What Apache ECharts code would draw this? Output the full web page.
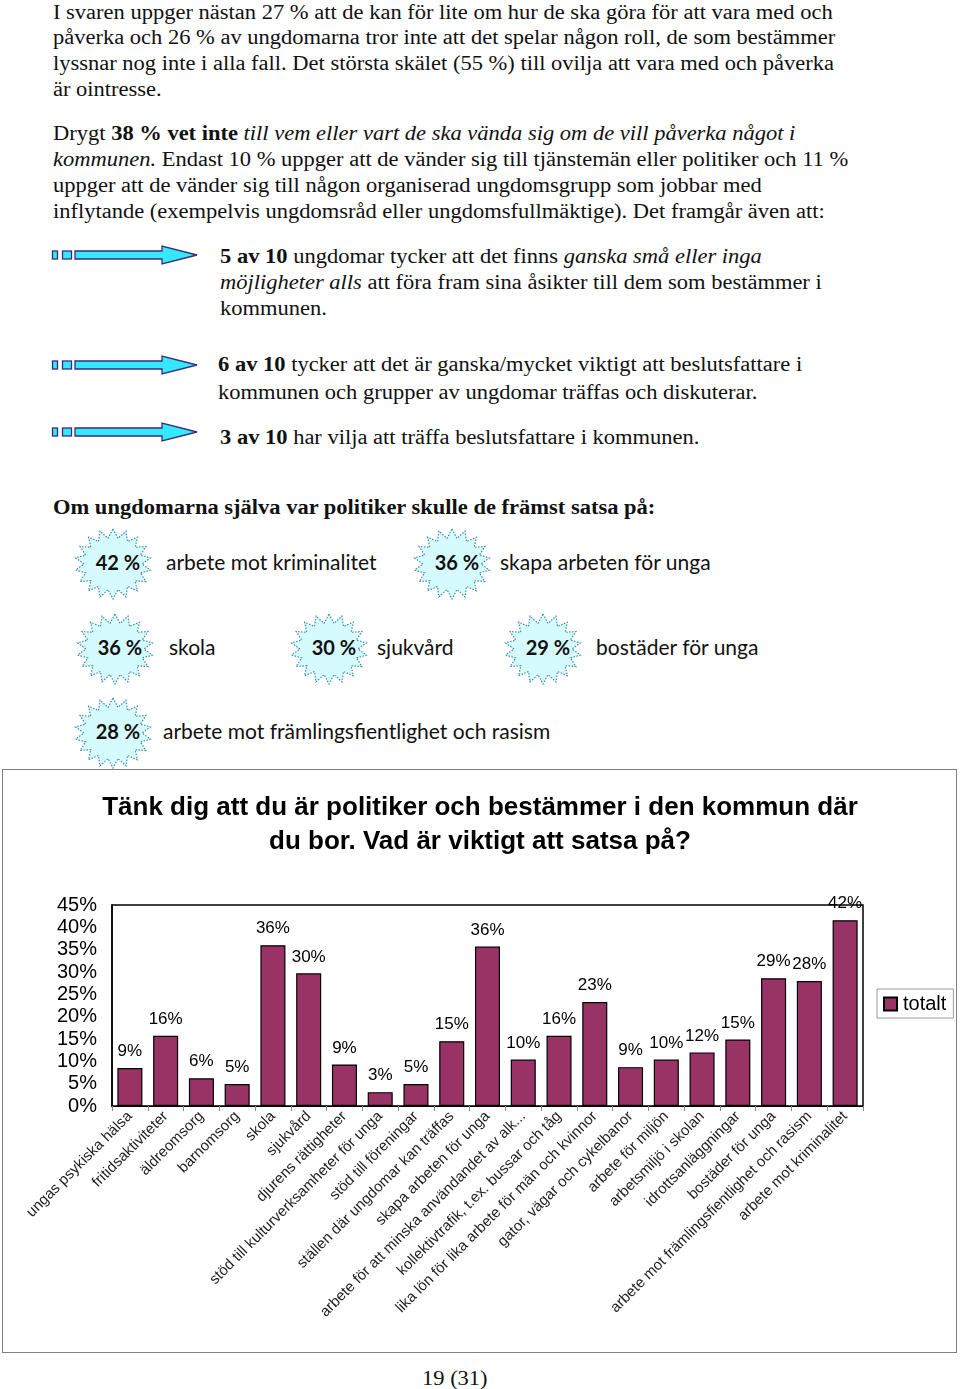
<!DOCTYPE html>
<html>
<head>
<meta charset="utf-8">
<script src="https://cdn.jsdelivr.net/npm/echarts@6/dist/echarts.min.js"></script>
<style>
  html, body { margin: 0; padding: 0; background: #fff; }
  body { width: 960px; height: 1389px; position: relative; overflow: hidden; }
  .ln { position: absolute; white-space: nowrap; font-family: "Liberation Serif", "DejaVu Serif", serif; font-size: 20px; line-height: 26px; color: #111; transform: scaleX(1.125); transform-origin: 0 50%; }
  .star-txt { position: absolute; white-space: nowrap; font-family: Lato, "Open Sans", sans-serif; font-size: 21px; line-height: 26px; color: #111; }
  .star-pct { position: absolute; white-space: nowrap; font-family: Lato, "Open Sans", sans-serif; font-weight: bold; font-size: 20px; line-height: 26px; color: #111; text-align: center; width: 80px; }
  #box { position: absolute; left: 2px; top: 769px; width: 955px; height: 584px; border: 1px solid #808080; box-sizing: border-box; }
  #chart { position: absolute; left: 0; top: 760px; width: 960px; height: 600px; }
  svg.deco { position: absolute; left: 0; top: 0; }
</style>
</head>
<body>
<div id="box"></div>
<div id="chart"></div>
<script>
// ---------- chart data ----------
const categories = [
  "ungas psykiska hälsa",
  "fritidsaktiviteter",
  "äldreomsorg",
  "barnomsorg",
  "skola",
  "sjukvård",
  "djurens rättigheter",
  "stöd till kulturverksamheter för unga",
  "stöd till föreningar",
  "ställen där ungdomar kan träffas",
  "skapa arbeten för unga",
  "arbete för att minska användandet av alk...",
  "kollektivtrafik, t.ex. bussar och tåg",
  "lika lön för lika arbete för män och kvinnor",
  "gator, vägar och cykelbanor",
  "arbete för miljön",
  "arbetsmiljö i skolan",
  "idrottsanläggningar",
  "bostäder för unga",
  "arbete mot främlingsfientlighet och rasism",
  "arbete mot kriminalitet"
];
const totalt = [8.5, 15.7, 6.2, 4.9, 36.0, 29.7, 9.3, 3.1, 4.9, 14.5, 35.7, 10.4, 15.7, 23.3, 8.7, 10.4, 12.0, 14.9, 28.6, 28.0, 41.6];
const seriesName = "totalt";
const yTicks = [0, 5, 10, 15, 20, 25, 30, 35, 40, 45];
const chartTitle = "Tänk dig att du är politiker och bestämmer i den kommun där\ndu bor. Vad är viktigt att satsa på?";

// ---------- document text ----------
const paraLines = [
  'I svaren uppger nästan 27 % att de kan för lite om hur de ska göra för att vara med och',
  'påverka och 26 % av ungdomarna tror inte att det spelar någon roll, de som bestämmer',
  'lyssnar nog inte i alla fall. Det största skälet (55 %) till ovilja att vara med och påverka',
  'är ointresse.',
  'Drygt <b>38 % vet inte</b> <i>till vem eller vart de ska vända sig om de vill påverka något i</i>',
  '<i>kommunen.</i> Endast 10 % uppger att de vänder sig till tjänstemän eller politiker och 11 %',
  'uppger att de vänder sig till någon organiserad ungdomsgrupp som jobbar med',
  'inflytande (exempelvis ungdomsråd eller ungdomsfullmäktige). Det framgår även att:'
];
const bulletLines = [
  '<b>5 av 10</b> ungdomar tycker att det finns <i>ganska små eller inga</i>',
  '<i>möjligheter alls</i> att föra fram sina åsikter till dem som bestämmer i',
  'kommunen.',
  '<b>6 av 10</b> tycker att det är ganska/mycket viktigt att beslutsfattare i',
  'kommunen och grupper av ungdomar träffas och diskuterar.',
  '<b>3 av 10</b> har vilja att träffa beslutsfattare i kommunen.'
];
const heading = '<b>Om ungdomarna själva var politiker skulle de främst satsa på:</b>';
const starPcts = ['42 %', '36 %', '36 %', '30 %', '29 %', '28 %'];
const starTexts = ['arbete mot kriminalitet', 'skapa arbeten för unga', 'skola', 'sjukvård', 'bostäder för unga', 'arbete mot främlingsfientlighet och rasism'];
const pageNumber = '19 (31)';

// ---------- layout (positions) ----------
const paraLayout = [[53,12],[53,37],[53,63],[53,89],[53,133],[53,159],[53,185],[53,211]];
const bulletLayout = [[220,256],[220,282],[220,308],[218,364],[218,392],[220,437]];
const arrowY = [255, 365, 432];
const starLayout = [[113,564,166],[452,564,500],[115,649,169],[329,649,377],[543,649,596],[113,733,163]];

function addLine(html, x, cy, cls) {
  const d = document.createElement('div');
  d.className = cls || 'ln';
  d.innerHTML = html;
  d.style.left = x + 'px';
  d.style.top = (cy - 13) + 'px';
  document.body.appendChild(d);
  return d;
}
paraLines.forEach((t, i) => addLine(t, paraLayout[i][0], paraLayout[i][1]));
bulletLines.forEach((t, i) => addLine(t, bulletLayout[i][0], bulletLayout[i][1]));
addLine(heading, 53, 507);
addLine(pageNumber, 422, 1378);

// decorations svg
const NS = 'http://www.w3.org/2000/svg';
const svg = document.createElementNS(NS, 'svg');
svg.setAttribute('class', 'deco');
svg.setAttribute('width', '960');
svg.setAttribute('height', '770');
document.body.insertBefore(svg, document.body.firstChild);
function el(name, attrs) {
  const e = document.createElementNS(NS, name);
  for (const k in attrs) e.setAttribute(k, attrs[k]);
  svg.appendChild(e);
  return e;
}
arrowY.forEach(y => {
  const st = '#3b2a80', fill = '#36e8fb';
  el('rect', {x: 52.5, y: y - 4, width: 5, height: 8, fill: fill, stroke: st, 'stroke-width': 1.3});
  el('rect', {x: 62.5, y: y - 4, width: 9, height: 8, fill: fill, stroke: st, 'stroke-width': 1.3});
  el('polygon', {points: `75,${y-4} 162,${y-4} 162,${y-9} 197,${y} 162,${y+9} 162,${y+4} 75,${y+4}`, fill: fill, stroke: st, 'stroke-width': 1.3});
});
starLayout.forEach((p, i) => {
  const [cx, cy, tx] = p;
  const n = 18, pts = [];
  for (let k = 0; k < n * 2; k++) {
    const a = -Math.PI / 2 + k * Math.PI / n;
    const rx = k % 2 === 0 ? 38 : 29, ry = k % 2 === 0 ? 35 : 26;
    pts.push((cx + rx * Math.cos(a)).toFixed(1) + ',' + (cy + ry * Math.sin(a)).toFixed(1));
  }
  el('polygon', {points: pts.join(' '), fill: '#d6fbff', stroke: '#3d8ea6', 'stroke-width': 1.2, 'stroke-dasharray': '1.5 1.5'});
  addLine(starPcts[i], cx - 35, cy - 2, 'star-pct');
  addLine(starTexts[i], tx, cy - 2, 'star-txt');
});

// ---------- chart ----------
const chart = echarts.init(document.getElementById('chart'), null, {renderer: 'canvas'});
const font = '"Liberation Sans", Arial, sans-serif';
chart.setOption({
  animation: false,
  title: {
    text: chartTitle,
    left: 'center',
    top: 26,
    textStyle: {fontFamily: font, fontSize: 26, fontWeight: 'bold', color: '#000', lineHeight: 34}
  },
  legend: {
    data: [seriesName],
    left: 877,
    top: 229,
    orient: 'vertical',
    borderColor: '#999',
    borderWidth: 1,
    padding: [5, 7, 4, 6],
    itemWidth: 13,
    itemHeight: 13,
    icon: 'rect',
    textStyle: {fontFamily: font, fontSize: 20, color: '#000', padding: [0, 0, 0, 1]}
  },
  grid: {
    left: 112, top: 145, right: 97, bottom: 254,
    show: true, borderColor: '#000', borderWidth: 1.5, backgroundColor: 'transparent'
  },
  xAxis: {
    type: 'category',
    data: categories,
    axisLine: {lineStyle: {color: '#000', width: 1}},
    axisTick: {show: true, length: 5, lineStyle: {color: '#888'}},
    axisLabel: {rotate: 45, interval: 0, margin: 8, fontFamily: font, fontSize: 15, color: '#222'}
  },
  yAxis: {
    type: 'value',
    min: yTicks[0],
    max: yTicks[yTicks.length - 1],
    interval: 5,
    splitLine: {show: false},
    axisLine: {show: true, lineStyle: {color: '#000', width: 1.5}},
    axisTick: {show: false},
    axisLabel: {formatter: '{value}%', fontFamily: font, fontSize: 20, color: '#000', margin: 15}
  },
  series: [{
    name: seriesName,
    type: 'bar',
    data: totalt,
    barCategoryGap: '30%',
    itemStyle: {color: '#993366', borderColor: '#000', borderWidth: 1.2},
    label: {
      show: true, position: 'top', distance: 8,
      formatter: p => Math.round(p.value) + '%',
      fontFamily: font, fontSize: 17, color: '#000'
    }
  }]
});
</script>
</body>
</html>
